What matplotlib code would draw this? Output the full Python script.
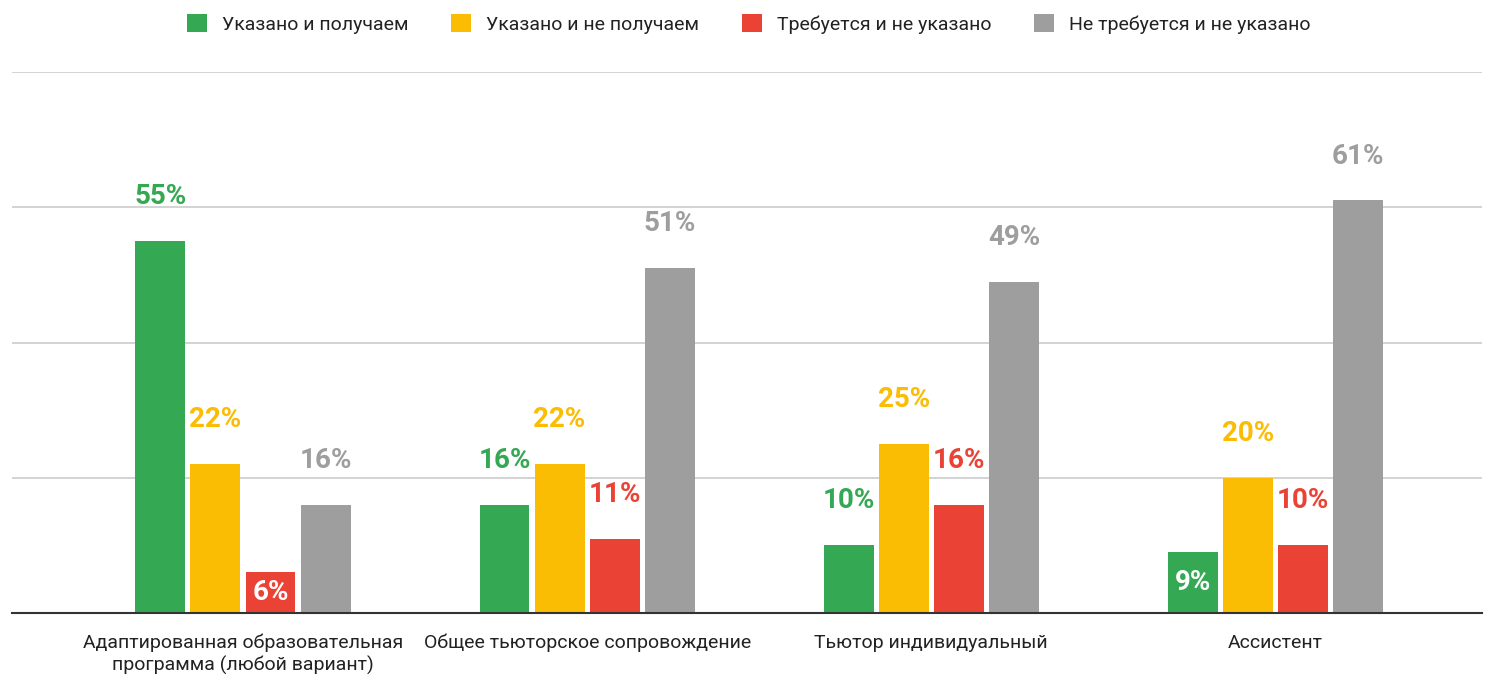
import matplotlib.pyplot as plt
import numpy as np

categories = ["Адаптированная образовательная\nпрограмма (любой вариант)",
              "Общее тьюторское сопровождение",
              "Тьютор индивидуальный",
              "Ассистент"]
series_names = ["Указано и получаем", "Указано и не получаем",
                "Требуется и не указано", "Не требуется и не указано"]
received = [55, 16, 10, 9]
not_received = [22, 22, 25, 20]
required_not_given = [6, 11, 16, 10]
not_required = [16, 51, 49, 61]
colors = ["#34A853", "#FBBC04", "#EA4335", "#9E9E9E"]

plt.rcParams['font.family'] = ['Roboto', 'DejaVu Sans']

fig = plt.figure(figsize=(14.95, 6.86), dpi=100)
ax = fig.add_axes([12 / 1495, 73 / 686, 1470 / 1495, 541 / 686])

x = np.arange(len(categories))
width = 0.145
step = 0.16
all_series = [received, not_received, required_not_given, not_required]

for i, (vals, col, name) in enumerate(zip(all_series, colors, series_names)):
    pos = x + (i - 1.5) * step
    bars = ax.bar(pos, vals, width=width, color=col, label=name, zorder=3)
    for b, v in zip(bars, vals):
        cx = b.get_x() + b.get_width() / 2
        if v < 10:
            # small bars: label sits inside in white
            ax.text(cx, v / 2, f"{v}%", ha='center', va='center', color='white',
                    fontsize=20, fontweight='bold', zorder=4)
        else:
            ax.annotate(f"{v}%", (cx, v), xytext=(0, 26.6), textcoords='offset points',
                        ha='center', va='baseline', color=col, fontsize=20,
                        fontweight='bold', zorder=4)

ax.set_xlim(-0.671, 3.60)
ax.set_ylim(0, 80)
ax.set_yticks([0, 20, 40, 60, 80])
ax.set_yticklabels([])
ax.tick_params(axis='y', length=0)
ax.tick_params(axis='x', length=0, pad=15)
ax.set_xticks(x)
ax.set_xticklabels(categories, fontsize=14, color='#222222')
ax.grid(axis='y', color='#cccccc', linewidth=1.2, zorder=0)
for s in ['top', 'right', 'left']:
    ax.spines[s].set_visible(False)
ax.spines['bottom'].set_color('#333333')
ax.spines['bottom'].set_linewidth(1.5)
ax.spines['bottom'].set_zorder(5)

fig.legend(loc='center', bbox_to_anchor=(0.501, 1 - 24 / 686), ncol=4, frameon=False,
           fontsize=14, handlelength=1.0, handleheight=1.0, handletextpad=0.8,
           columnspacing=2.2, labelcolor='#222222')

fig.savefig("out.png", dpi=100)
